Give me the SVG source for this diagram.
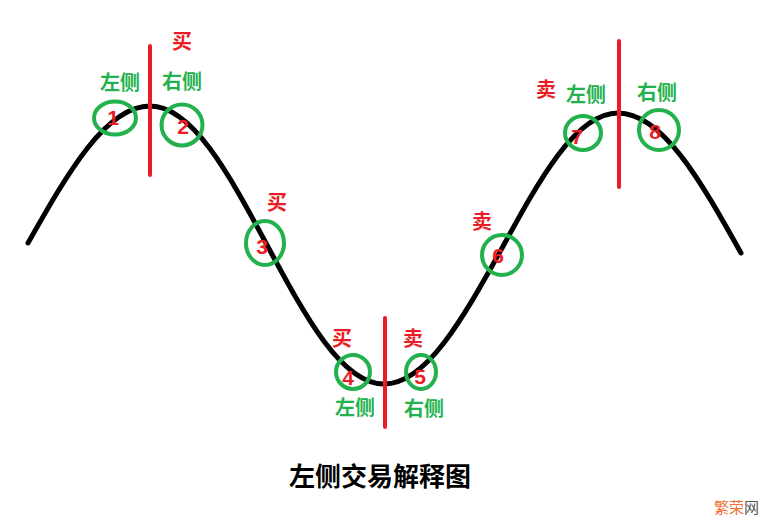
<svg xmlns="http://www.w3.org/2000/svg" width="783" height="529" viewBox="0 0 783 529">
<style>
.curve{fill:none;stroke:#000;stroke-width:5;stroke-linecap:round}
.div{stroke:#ec1c24;stroke-width:4;stroke-linecap:round}
.ring{fill:none;stroke:#22b14c;stroke-width:4}
.num{font-family:"Liberation Sans","Noto Sans CJK SC",sans-serif;font-weight:bold;font-size:21px;fill:#ec1c24;text-anchor:middle}
.side{font-family:"Noto Sans CJK SC",sans-serif;font-weight:bold;font-size:20px;fill:#22b14c;text-anchor:middle}
.act{font-family:"Noto Sans CJK SC",sans-serif;font-weight:bold;font-size:20px;fill:#ec1c24;text-anchor:middle}
.title{font-family:"Noto Sans CJK SC",sans-serif;font-weight:bold;font-size:26px;fill:#000;text-anchor:middle}
.wm{font-family:"Noto Sans CJK SC",sans-serif;font-size:15px}
</style>
<rect width="783" height="529" fill="#fff"/>
<g id="connectors">
<path class="curve" d="M28,243 C67.8,172.8 105.8,106 150,106 C192.3,106 228.8,173.8 267,245 C305.2,316.2 341.7,384 384,384 C426.3,384 462.8,318.6 501,250 C539.2,179.8 575.7,113 618,113 C662.5,113 700.9,181.3 741,253"/>
<line class="div" x1="150" y1="46" x2="150" y2="175"/>
<line class="div" x1="385" y1="318" x2="385" y2="427"/>
<line class="div" x1="619" y1="41" x2="619" y2="187"/>
</g>
<g id="node1"><ellipse class="ring" cx="115" cy="118" rx="21" ry="16.5"/><text class="num" x="113" y="125">1</text></g>
<g id="node2"><ellipse class="ring" cx="182" cy="125" rx="20.5" ry="20.5"/><text class="num" x="183" y="134">2</text></g>
<g id="node3"><ellipse class="ring" cx="265" cy="243" rx="19" ry="22"/><text class="num" x="262" y="254">3</text></g>
<g id="node4"><ellipse class="ring" cx="353" cy="372" rx="17" ry="17"/><text class="num" x="348" y="385">4</text></g>
<g id="node5"><ellipse class="ring" cx="421" cy="372" rx="15" ry="17"/><text class="num" x="420" y="384">5</text></g>
<g id="node6"><ellipse class="ring" cx="502" cy="255" rx="20" ry="20"/><text class="num" x="498" y="263">6</text></g>
<g id="node7"><ellipse class="ring" cx="583" cy="133" rx="18" ry="17"/><text class="num" x="577" y="144">7</text></g>
<g id="node8"><ellipse class="ring" cx="659" cy="130" rx="20" ry="20"/><text class="num" x="655" y="139">8</text></g>
<g id="labels">
<text class="side" x="120" y="90">左侧</text>
<text class="side" x="182" y="89">右侧</text>
<text class="act" x="182" y="49">买</text>
<text class="act" x="277" y="210">买</text>
<text class="act" x="482" y="229">卖</text>
<text class="act" x="342" y="346">买</text>
<text class="act" x="413" y="346">卖</text>
<text class="side" x="355" y="415">左侧</text>
<text class="side" x="424" y="416">右侧</text>
<text class="act" x="546" y="97">卖</text>
<text class="side" x="586" y="102">左侧</text>
<text class="side" x="657" y="100">右侧</text>
<text class="title" x="380" y="486">左侧交易解释图</text>
<text class="wm" x="714" y="513"><tspan fill="#f07032">繁荣</tspan><tspan fill="#555">网</tspan></text>
</g>
</svg>
